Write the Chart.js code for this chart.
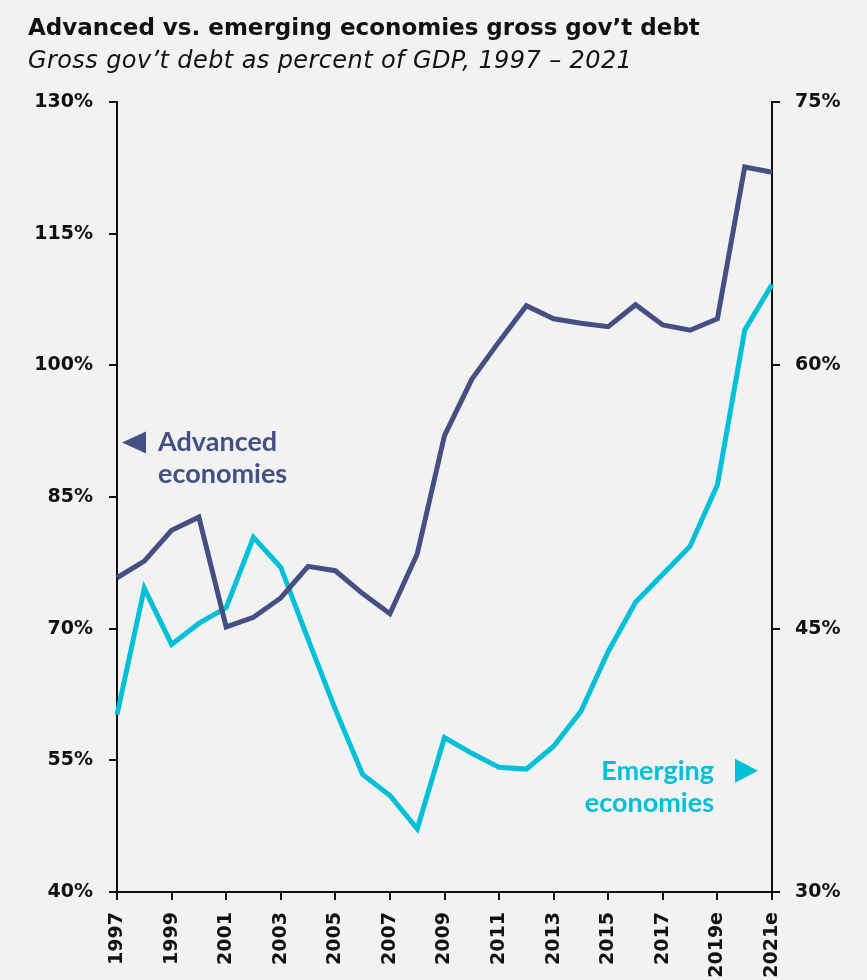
<!DOCTYPE html>
<html>
<head>
<meta charset="utf-8">
<script src="https://cdn.jsdelivr.net/npm/chart.js@4"></script>
<style>
  html, body { margin: 0; padding: 0; background: #f2f2f2; }
  #wrap { position: relative; width: 867px; height: 980px; overflow: hidden; }
  #chart { position: absolute; left: 0; top: 0; }
  .title { position: absolute; left: 28px; top: 14px; font: bold 23px "DejaVu Sans", sans-serif; color: #111; }
  .subtitle { position: absolute; left: 28px; top: 46px; font: oblique 24px "DejaVu Sans", sans-serif; color: #111; letter-spacing: 0.4px; }
</style>
</head>
<body>
<div id="wrap">
  <canvas id="chart" width="867" height="980"></canvas>
  <div class="title">Advanced vs. emerging economies gross gov’t debt</div>
  <div class="subtitle">Gross gov’t debt as percent of GDP, 1997 – 2021</div>
</div>
<script>
const years = ["1997", "1998", "1999", "2000", "2001", "2002", "2003", "2004", "2005", "2006",
  "2007", "2008", "2009", "2010", "2011", "2012", "2013", "2014", "2015", "2016",
  "2017", "2018", "2019e", "2020e", "2021e"];

// left axis, % of GDP
const advanced = [75.8, 77.7, 81.2, 82.7, 70.2, 71.3, 73.5, 77.1, 76.6, 74.0,
  71.7, 78.5, 92.0, 98.4, 102.7, 106.8, 105.3, 104.8, 104.4, 106.9,
  104.6, 104.0, 105.3, 122.6, 122.0];

// right axis, % of GDP
const emerging = [40.1, 47.3, 44.1, 45.3, 46.2, 50.2, 48.5, 44.4, 40.4, 36.7,
  35.5, 33.6, 38.8, 37.9, 37.1, 37.0, 38.3, 40.3, 43.7, 46.5,
  48.1, 49.7, 53.2, 62.0, 64.6];

const leftTicks = { min: 40, max: 130, step: 15 };
const rightTicks = { min: 30, max: 75, step: 15 };

const advColor = "#454f82";
const emgColor = "#00c0d8";
const tickFont = { family: "'DejaVu Sans', sans-serif", size: 19, weight: "bold" };

function axisStyle() {
  return {
    border: { display: true, color: "#111", width: 2 },
    grid: { display: true, drawOnChartArea: false, drawTicks: true, tickLength: 8, color: "#111", lineWidth: 2 },
  };
}

const labelsPlugin = {
  id: "seriesLabels",
  afterDraw(chart) {
    const ctx = chart.ctx;
    const yL = chart.scales.yLeft;
    const yR = chart.scales.yRight;
    const area = chart.chartArea;
    ctx.save();
    ctx.font = "bold 27px Lato, 'Open Sans', sans-serif";
    ctx.textBaseline = "middle";

    // Advanced economies (points left)
    let y = yL.getPixelForValue(91.2);
    ctx.fillStyle = advColor;
    ctx.beginPath();
    ctx.moveTo(area.left + 5, y);
    ctx.lineTo(area.left + 29, y - 11);
    ctx.lineTo(area.left + 29, y + 11);
    ctx.closePath();
    ctx.fill();
    ctx.textAlign = "left";
    ctx.fillText("Advanced", area.left + 41, y);
    ctx.fillText("economies", area.left + 41, y + 32);

    // Emerging economies (points right)
    y = yR.getPixelForValue(36.9);
    ctx.fillStyle = emgColor;
    ctx.beginPath();
    ctx.moveTo(area.right - 14, y);
    ctx.lineTo(area.right - 37, y - 12);
    ctx.lineTo(area.right - 37, y + 12);
    ctx.closePath();
    ctx.fill();
    ctx.textAlign = "right";
    ctx.fillText("Emerging", area.right - 58, y);
    ctx.fillText("economies", area.right - 58, y + 32);
    ctx.restore();
  },
};

new Chart(document.getElementById("chart").getContext("2d"), {
  type: "line",
  data: {
    labels: years,
    datasets: [
      {
        label: "Advanced economies",
        data: advanced,
        yAxisID: "yLeft",
        borderColor: advColor,
        borderWidth: 5,
        pointRadius: 0,
        tension: 0,
        borderJoinStyle: "miter",
      },
      {
        label: "Emerging economies",
        data: emerging,
        yAxisID: "yRight",
        borderColor: emgColor,
        borderWidth: 5,
        pointRadius: 0,
        tension: 0,
        borderJoinStyle: "miter",
      },
    ],
  },
  options: {
    responsive: false,
    animation: false,
    layout: { padding: { top: 102, left: 0, right: 0, bottom: 0 } },
    plugins: {
      legend: { display: false },
      tooltip: { enabled: false },
    },
    scales: {
      x: {
        ...axisStyle(),
        offset: false,
        ticks: {
          color: "#111",
          font: tickFont,
          autoSkip: false,
          maxRotation: 90,
          minRotation: 90,
          padding: 12,
          callback: function (value, index) {
            return index % 2 === 0 ? years[index] : null;
          },
        },
        afterFit(scale) { scale.height = 88; },
      },
      yLeft: {
        ...axisStyle(),
        position: "left",
        min: leftTicks.min,
        max: leftTicks.max,
        ticks: {
          stepSize: leftTicks.step,
          color: "#111",
          font: tickFont,
          padding: 16,
          callback: (v) => v + "%",
        },
        afterFit(scale) { scale.width = 117; },
      },
      yRight: {
        ...axisStyle(),
        position: "right",
        min: rightTicks.min,
        max: rightTicks.max,
        ticks: {
          stepSize: rightTicks.step,
          color: "#111",
          font: tickFont,
          padding: 15,
          callback: (v) => v + "%",
        },
        afterFit(scale) { scale.width = 95; },
      },
    },
  },
  plugins: [labelsPlugin],
});
</script>
</body>
</html>
